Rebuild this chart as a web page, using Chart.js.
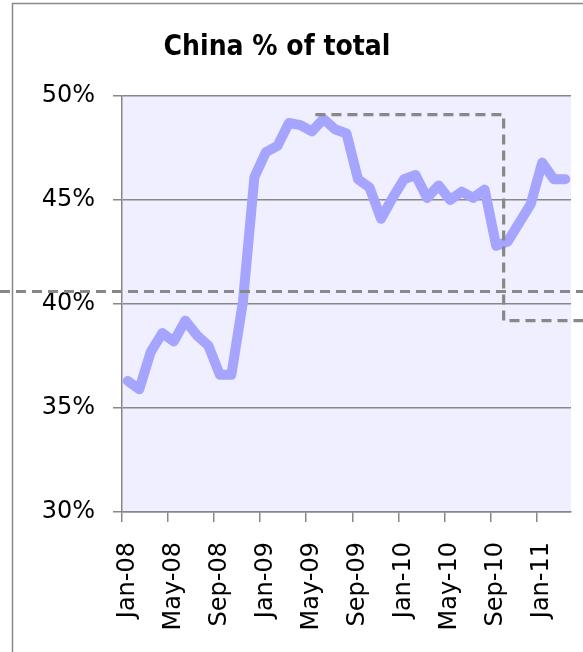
<!DOCTYPE html>
<html>
<head>
<meta charset="utf-8">
<script src="https://cdn.jsdelivr.net/npm/chart.js@4/dist/chart.umd.min.js"></script>
<style>
  html, body { margin: 0; padding: 0; background: #fff; }
  #wrap { position: relative; width: 583px; height: 652px; }
</style>
</head>
<body>
<div id="wrap"><canvas id="shareChart"></canvas></div>
<script>
const months = [
  "Jan-08", "Feb-08", "Mar-08", "Apr-08", "May-08", "Jun-08", "Jul-08", "Aug-08", "Sep-08", "Oct-08", "Nov-08", "Dec-08",
  "Jan-09", "Feb-09", "Mar-09", "Apr-09", "May-09", "Jun-09", "Jul-09", "Aug-09", "Sep-09", "Oct-09", "Nov-09", "Dec-09",
  "Jan-10", "Feb-10", "Mar-10", "Apr-10", "May-10", "Jun-10", "Jul-10", "Aug-10", "Sep-10", "Oct-10", "Nov-10", "Dec-10",
  "Jan-11", "Feb-11", "Mar-11",
];
// China share of total, percent
const chinaShare = [
  36.3, 35.9, 37.7, 38.6, 38.2, 39.2, 38.5, 38.0, 36.6, 36.6, 40.1, 46.1,
  47.3, 47.6, 48.7, 48.6, 48.3, 48.9, 48.4, 48.2, 46.0, 45.6, 44.1, 45.1,
  46.0, 46.2, 45.1, 45.7, 45.0, 45.4, 45.1, 45.5, 42.8, 43.0, 43.9, 44.8,
  46.8, 46.0, 46.0,
];
const yTicks = [30, 35, 40, 45, 50];

// dashed guides, in percent and month-index units
const guideLevel = 40.6;
const boxTop = 49.1;
const boxBottom = 39.2;
const boxStart = 16.3;
const boxStep = 32.65;

const GRID = "#888888";
const FONT = "'DejaVu Sans', Verdana, sans-serif";

const frameAndBackground = {
  id: "frameAndBackground",
  beforeDraw(chart) {
    const { ctx, chartArea: a } = chart;
    ctx.save();
    ctx.fillStyle = "#efefff";
    ctx.fillRect(a.left, a.top, a.right - a.left, a.bottom - a.top);
    ctx.strokeStyle = GRID;
    ctx.lineWidth = 1.5;
    ctx.beginPath();
    ctx.moveTo(12.5, chart.height);
    ctx.lineTo(12.5, 3.5);
    ctx.lineTo(chart.width, 3.5);
    ctx.stroke();
    ctx.fillStyle = "#000";
    ctx.font = `bold 28px 'DejaVu Sans Condensed', 'DejaVu Sans', sans-serif`;
    ctx.textAlign = "center";
    ctx.textBaseline = "alphabetic";
    ctx.fillText("China % of total", 277, 55);
    ctx.restore();
  },
};

const dashedGuides = {
  id: "dashedGuides",
  afterDatasetsDraw(chart) {
    const { ctx } = chart;
    const x = chart.scales.x;
    const y = chart.scales.y;
    ctx.save();
    ctx.strokeStyle = GRID;
    ctx.lineWidth = 3.2;
    ctx.setLineDash([10, 6]);
    ctx.beginPath();
    ctx.moveTo(0, y.getPixelForValue(guideLevel));
    ctx.lineTo(chart.width, y.getPixelForValue(guideLevel));
    ctx.stroke();
    ctx.beginPath();
    ctx.moveTo(x.getPixelForValue(boxStart), y.getPixelForValue(boxTop));
    ctx.lineTo(x.getPixelForValue(boxStep), y.getPixelForValue(boxTop));
    ctx.lineTo(x.getPixelForValue(boxStep), y.getPixelForValue(boxBottom));
    ctx.lineTo(chart.width, y.getPixelForValue(boxBottom));
    ctx.stroke();
    ctx.restore();
  },
};

new Chart(document.getElementById("shareChart"), {
  type: "line",
  data: {
    labels: months,
    datasets: [{
      data: chinaShare,
      borderColor: "#a5a5ff",
      borderWidth: 10,
      borderJoinStyle: "round",
      borderCapStyle: "round",
      pointRadius: 0,
      tension: 0,
    }],
  },
  options: {
    responsive: true,
    maintainAspectRatio: false,
    animation: false,
    layout: { padding: { left: 0, right: 12, top: 96, bottom: 0 } },
    plugins: {
      legend: { display: false },
      tooltip: { enabled: false },
    },
    scales: {
      x: {
        offset: true,
        grid: {
          offset: true,
          drawOnChartArea: false,
          tickLength: 10,
          lineWidth: 1.5,
          color: (c) => (c.index % 4 === 0 ? GRID : "rgba(0,0,0,0)"),
        },
        border: { color: GRID, width: 1.5 },
        ticks: {
          autoSkip: false,
          minRotation: 90,
          maxRotation: 90,
          padding: 20,
          color: "#000",
          font: { family: FONT, size: 24 },
          callback: (v, i) => (i % 4 === 0 ? months[i] : ""),
        },
        afterFit: (scale) => {
          scale.height = 140;
          scale.paddingLeft = 0;
          scale.paddingRight = 0;
        },
      },
      y: {
        min: 30,
        max: 50,
        afterBuildTicks: (scale) => { scale.ticks = yTicks.map((v) => ({ value: v })); },
        grid: { color: GRID, lineWidth: 1.5, tickLength: 9 },
        border: { color: GRID, width: 1.5 },
        ticks: {
          padding: 18,
          color: "#000",
          font: { family: FONT, size: 24 },
          callback: (v) => `${v}%`,
        },
        afterFit: (scale) => { scale.width = 122; },
      },
    },
  },
  plugins: [frameAndBackground, dashedGuides],
});
</script>
</body>
</html>
